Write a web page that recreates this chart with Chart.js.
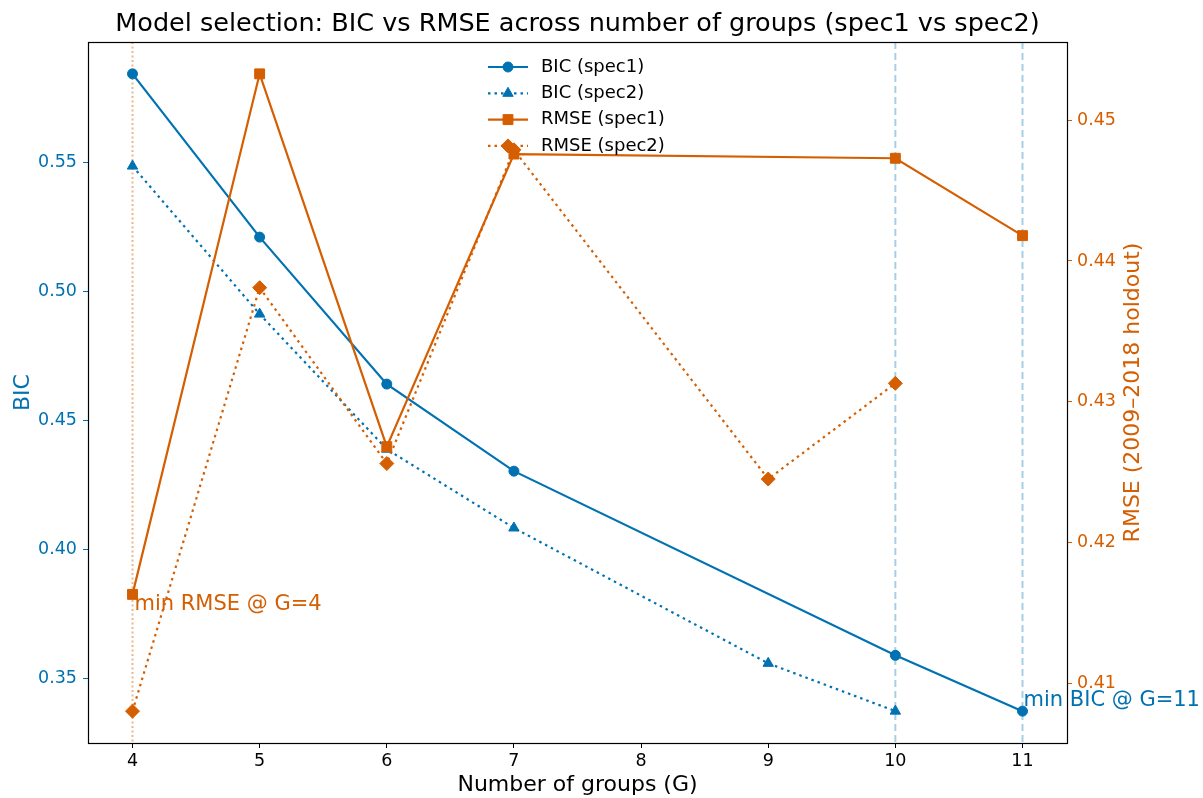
<!DOCTYPE html>
<html>
<head>
<meta charset="utf-8">
<title>Model selection</title>
<script src="https://cdn.jsdelivr.net/npm/chart.js@4.4.0/dist/chart.umd.min.js"></script>
<style>
  html, body { margin: 0; padding: 0; background: #fff; }
  canvas { display: block; }
</style>
</head>
<body>
<canvas id="selChart" width="1203" height="798"></canvas>
<script>
// values
const groupsSpec1 = [4, 5, 6, 7, 10, 11];
const groupsSpec2 = [4, 5, 6, 7, 9, 10];
const bicSpec1 = [0.5842, 0.5210, 0.4641, 0.4304, 0.3591, 0.3375];
const bicSpec2 = [0.5485, 0.4912, 0.4389, 0.4084, 0.3560, 0.3375];
const rmseSpec1 = [0.4163, 0.4533, 0.4268, 0.4476, 0.4473, 0.4418];
const rmseSpec2 = [0.4080, 0.4381, 0.4256, 0.4479, 0.4245, 0.4313];
const xTicks = [4, 5, 6, 7, 8, 9, 10, 11];
const bicTicks = [0.35, 0.40, 0.45, 0.50, 0.55];
const rmseTicks = [0.41, 0.42, 0.43, 0.44, 0.45];

const BLUE = '#0072B2';
const ORANGE = '#D55E00';
const FONT = '"DejaVu Sans", "Liberation Sans", sans-serif';
const DOTS = [2.5, 4];
const RMSE_TITLE = 'RMSE (2009\u20132018 holdout)';

const toPts = (xs, ys) => xs.map((g, i) => ({ x: g, y: ys[i] }));
const argMin = (xs, ys) => xs[ys.indexOf(Math.min(...ys))];

// matplotlib-like 5% margins
function padRange(vals) {
    const lo = Math.min(...vals), hi = Math.max(...vals);
    const p = (hi - lo) * 0.05;
    return [lo - p, hi + p];
}
const xRange = padRange(groupsSpec1.concat(groupsSpec2));
const bicRange = padRange(bicSpec1.concat(bicSpec2));
const rmseRange = padRange(rmseSpec1.concat(rmseSpec2));

const minBicG = [argMin(groupsSpec1, bicSpec1), argMin(groupsSpec2, bicSpec2)];
const minRmseG = [argMin(groupsSpec1, rmseSpec1), argMin(groupsSpec2, rmseSpec2)];

const series = [
    { label: 'BIC (spec1)', data: toPts(groupsSpec1, bicSpec1), color: BLUE, dash: [], style: 'circle', r: 5, axis: 'y', order: 4 },
    { label: 'BIC (spec2)', data: toPts(groupsSpec2, bicSpec2), color: BLUE, dash: DOTS, style: 'triangle', r: 6, axis: 'y', order: 3 },
    { label: 'RMSE (spec1)', data: toPts(groupsSpec1, rmseSpec1), color: ORANGE, dash: [], style: 'rect', r: 7, axis: 'y2', order: 2 },
    { label: 'RMSE (spec2)', data: toPts(groupsSpec2, rmseSpec2), color: ORANGE, dash: DOTS, style: 'rectRot', r: 7, axis: 'y2', order: 1 }
];

function drawMarker(ctx, s, x, y) {
    ctx.save();
    ctx.setLineDash([]);
    ctx.fillStyle = s.color;
    ctx.strokeStyle = s.color;
    ctx.lineWidth = 1;
    if (Chart.helpers && Chart.helpers.drawPoint) {
        Chart.helpers.drawPoint(ctx, { pointStyle: s.style, radius: s.r, borderWidth: 1, rotation: 0 }, x, y);
    } else {
        ctx.beginPath();
        ctx.arc(x, y, s.r, 0, Math.PI * 2);
        ctx.fill();
    }
    ctx.restore();
}

const guides = {
    id: 'guides',
    beforeDatasetsDraw(chart) {
        const { ctx, chartArea: { top, bottom }, scales: { x } } = chart;
        ctx.save();
        ctx.lineWidth = 2;
        ctx.strokeStyle = 'rgba(213, 94, 0, 0.45)';
        ctx.setLineDash([2, 2.5]);
        [...new Set(minRmseG)].forEach(g => {
            const px = x.getPixelForValue(g);
            ctx.beginPath(); ctx.moveTo(px, top); ctx.lineTo(px, bottom); ctx.stroke();
        });
        ctx.strokeStyle = 'rgba(0, 114, 178, 0.35)';
        ctx.setLineDash([7, 4]);
        [...new Set(minBicG)].forEach(g => {
            const px = x.getPixelForValue(g);
            ctx.beginPath(); ctx.moveTo(px, top); ctx.lineTo(px, bottom); ctx.stroke();
        });
        ctx.restore();
    },
    afterDatasetsDraw(chart) {
        const { ctx, chartArea: { left, top, right, bottom } } = chart;
        ctx.save();
        ctx.strokeStyle = '#000';
        ctx.lineWidth = 1.2;
        ctx.strokeRect(Math.round(left) + 0.5, Math.round(top) + 0.5, Math.round(right - left), Math.round(bottom - top));
        ctx.restore();
    },
    afterDraw(chart) {
        const { ctx, chartArea, scales: { x, y, y2 } } = chart;
        ctx.save();
        // right axis title, read bottom-to-top like the left one
        ctx.font = '22px ' + FONT;
        ctx.fillStyle = ORANGE;
        ctx.textAlign = 'center';
        ctx.textBaseline = 'middle';
        ctx.translate(y2.right - 70, (chartArea.top + chartArea.bottom) / 2);
        ctx.rotate(-Math.PI / 2);
        ctx.fillText(RMSE_TITLE, 0, 0);
        ctx.setTransform(1, 0, 0, 1, 0, 0);

        // annotations
        ctx.font = '21px ' + FONT;
        ctx.textAlign = 'left';
        ctx.textBaseline = 'middle';
        const gR = minRmseG[0];
        const vR = rmseSpec1[groupsSpec1.indexOf(gR)];
        ctx.fillStyle = ORANGE;
        ctx.fillText('min RMSE @ G=' + gR, x.getPixelForValue(gR) + 2, y2.getPixelForValue(vR) + 10);
        const gB = minBicG[0];
        const vB = bicSpec1[groupsSpec1.indexOf(gB)];
        ctx.fillStyle = BLUE;
        ctx.fillText('min BIC @ G=' + gB, x.getPixelForValue(gB) + 1, y.getPixelForValue(vB) - 11);

        // legend (frameless, stacked, upper centre)
        const lx = 488, ly = 67, rowH = 26.3;
        ctx.font = '18px ' + FONT;
        series.forEach((s, i) => {
            const yy = ly + i * rowH;
            ctx.strokeStyle = s.color;
            ctx.lineWidth = 2.2;
            ctx.setLineDash(s.dash);
            ctx.beginPath(); ctx.moveTo(lx, yy); ctx.lineTo(lx + 40, yy); ctx.stroke();
            drawMarker(ctx, s, lx + 20, yy);
            ctx.fillStyle = '#000';
            ctx.fillText(s.label, lx + 53, yy);
        });
        ctx.restore();
    }
};

const ctx = document.getElementById('selChart').getContext('2d');
new Chart(ctx, {
    type: 'line',
    data: {
        datasets: series.map(s => ({
            label: s.label,
            data: s.data,
            yAxisID: s.axis,
            order: s.order,
            borderColor: s.color,
            backgroundColor: s.color,
            borderWidth: 2.2,
            borderDash: s.dash,
            pointStyle: s.style,
            pointRadius: s.r,
            pointBackgroundColor: s.color,
            pointBorderColor: s.color,
            pointBorderWidth: 1,
            tension: 0,
            fill: false,
            clip: false
        }))
    },
    options: {
        responsive: false,
        animation: false,
        layout: { padding: 0 },
        scales: {
            x: {
                type: 'linear',
                min: xRange[0],
                max: xRange[1],
                afterBuildTicks: s => { s.ticks = xTicks.map(v => ({ value: v })); },
                afterFit: s => { s.height = 55; },
                border: { display: false },
                grid: { drawOnChartArea: false, drawTicks: true, tickLength: 5, tickColor: '#000' },
                ticks: { color: '#000', font: { family: FONT, size: 17.5 }, padding: 3, maxRotation: 0, autoSkip: false, callback: v => String(v) },
                title: { display: true, text: 'Number of groups (G)', color: '#000', font: { family: FONT, size: 22 }, padding: { top: 0, bottom: 0 } }
            },
            y: {
                type: 'linear',
                position: 'left',
                min: bicRange[0],
                max: bicRange[1],
                afterBuildTicks: s => { s.ticks = bicTicks.map(v => ({ value: v })); },
                afterFit: s => { s.width = 88; },
                border: { display: false },
                grid: { drawOnChartArea: false, drawTicks: true, tickLength: 5, tickColor: BLUE },
                ticks: { color: BLUE, font: { family: FONT, size: 17.5 }, padding: 6, callback: v => Number(v).toFixed(2) },
                title: { display: true, text: 'BIC', color: BLUE, font: { family: FONT, size: 22 }, padding: { top: 10, bottom: 0 } }
            },
            y2: {
                type: 'linear',
                position: 'right',
                min: rmseRange[0],
                max: rmseRange[1],
                afterBuildTicks: s => { s.ticks = rmseTicks.map(v => ({ value: v })); },
                afterFit: s => { s.width = 136; },
                border: { display: false },
                grid: { drawOnChartArea: false, drawTicks: true, tickLength: 5, tickColor: ORANGE },
                ticks: { color: ORANGE, font: { family: FONT, size: 17.5 }, padding: 5, callback: v => Number(v).toFixed(2) },
                title: { display: false }
            }
        },
        plugins: {
            legend: { display: false },
            tooltip: { enabled: false },
            title: {
                display: true,
                text: 'Model selection: BIC vs RMSE across number of groups (spec1 vs spec2)',
                fullSize: false,
                color: '#000',
                font: { family: FONT, size: 25.5, weight: 'normal' },
                padding: { top: 9, bottom: 2.4 }
            }
        }
    },
    plugins: [guides]
});
</script>
</body>
</html>
